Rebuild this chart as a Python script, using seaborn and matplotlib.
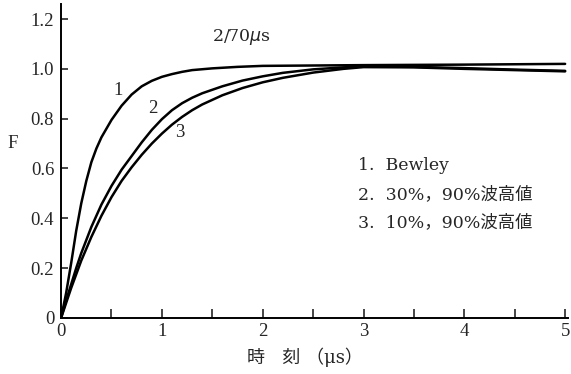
import pandas as pd
import seaborn as sns
import matplotlib.pyplot as plt

# time (us) and F for each curve
t1 = [0, 0.05, 0.1, 0.15, 0.2, 0.25, 0.3, 0.35, 0.4, 0.5, 0.6, 0.7, 0.8, 0.9, 1.0,
      1.1, 1.2, 1.3, 1.5, 1.75, 2.0, 3.0, 4.0, 5.0]
f1 = [0, 0.10, 0.22, 0.35, 0.46, 0.55, 0.625, 0.68, 0.725, 0.795, 0.852, 0.897, 0.93, 0.952, 0.968,
      0.979, 0.988, 0.995, 1.002, 1.008, 1.012, 1.015, 1.017, 1.02]

t2 = [0, 0.05, 0.1, 0.15, 0.2, 0.3, 0.4, 0.5, 0.6, 0.7, 0.8, 0.9, 1.0, 1.1, 1.2, 1.3, 1.4,
      1.6, 1.8, 2.0, 2.2, 2.5, 2.8, 3.0, 3.5, 4.0, 4.5, 5.0]
f2 = [0, 0.07, 0.135, 0.2, 0.26, 0.365, 0.455, 0.53, 0.595, 0.65, 0.705, 0.755, 0.798, 0.834, 0.862, 0.884, 0.902,
      0.930, 0.953, 0.970, 0.984, 0.998, 1.006, 1.01, 1.008, 1.003, 0.997, 0.992]

t3 = [0, 0.05, 0.1, 0.15, 0.2, 0.3, 0.4, 0.5, 0.6, 0.7, 0.8, 0.9, 1.0, 1.1, 1.2, 1.3, 1.4,
      1.6, 1.8, 2.0, 2.2, 2.5, 2.8, 3.0, 3.5, 4.0, 4.5, 5.0]
f3 = [0, 0.06, 0.12, 0.175, 0.23, 0.325, 0.41, 0.485, 0.55, 0.605, 0.655, 0.70, 0.74, 0.776, 0.807, 0.834, 0.857,
      0.894, 0.923, 0.946, 0.964, 0.985, 1.0, 1.007, 1.006, 1.0, 0.995, 0.99]

curve_names = ['1', '2', '3']
legend_lines = ['1.  Bewley', '2.  30%，90%波高値', '3.  10%，90%波高値']

df = pd.concat([
    pd.DataFrame({'t': t, 'F': f, 'curve': n})
    for t, f, n in zip([t1, t2, t3], [f1, f2, f3], curve_names)
])

sns.set_style('ticks')
plt.rcParams['font.family'] = ['Liberation Serif', 'Noto Sans CJK JP']
cjk_serif = ['DejaVu Serif', 'Noto Sans CJK JP']

fig = plt.figure(figsize=(5.71, 3.74), dpi=100)
ax = fig.add_axes([0.107, 0.150, 0.888, 0.839])

sns.lineplot(data=df, x='t', y='F', units='curve', estimator=None,
             color='black', linewidth=1.8, ax=ax, legend=False)

ax.set_xlim(0, 5.03)
ax.set_ylim(0, 1.26)
ax.set_xticks([0, 0.5, 1, 1.5, 2, 2.5, 3, 3.5, 4, 4.5, 5])
ax.set_xticklabels(['0', '', '1', '', '2', '', '3', '', '4', '', '5'])
ax.set_yticks([0, 0.2, 0.4, 0.6, 0.8, 1.0, 1.2])
ax.set_yticklabels(['0', '0.2', '0.4', '0.6', '0.8', '1.0', '1.2'])
ax.tick_params(axis='x', direction='in', length=6.5, width=1.2, labelsize=13.5, pad=4)
ax.tick_params(axis='y', direction='in', length=5, width=1.2, labelsize=13.5, pad=5)
sns.despine(ax=ax)
for s in ['left', 'bottom']:
    ax.spines[s].set_linewidth(1.4)
    ax.spines[s].set_color('black')

ax.set_xlabel('時   刻 （μs）', fontsize=13, family=cjk_serif)
ax.xaxis.set_label_coords(0.48, -0.095)
ax.set_ylabel('F', fontsize=13.5, rotation=0, va='center', ha='center')
ax.yaxis.set_label_coords(-0.095, 0.557)

# curve numbers
ax.text(0.565, 0.914, '1', fontsize=13.5, ha='center', va='center')
ax.text(0.91, 0.84, '2', fontsize=13.5, ha='center', va='center')
ax.text(1.18, 0.746, '3', fontsize=13.5, ha='center', va='center')
ax.text(1.79, 1.127, '2/70$\\mu$s', fontsize=12.5, ha='center', va='center', family=cjk_serif)

for i, line in enumerate(legend_lines):
    ax.text(2.95, 0.61 - i * 0.1135, line, fontsize=12.5, ha='left', va='center', family=cjk_serif)

plt.savefig('out.png', dpi=100)
